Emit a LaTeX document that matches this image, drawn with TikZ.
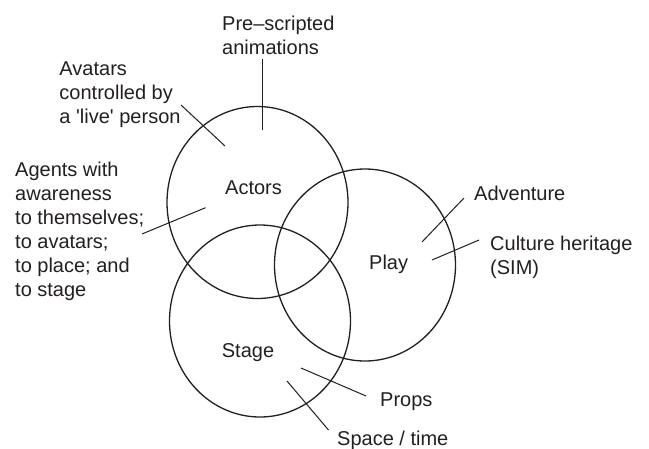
\documentclass[tikz,border=0pt]{standalone}
\usepackage{fontspec}
\setmainfont{Liberation Sans}
\usetikzlibrary{shapes.geometric}
\definecolor{ink}{RGB}{35,31,32}
\tikzset{
  region/.style={ellipse,draw=ink,line width=1.3pt,minimum width=181pt,
    minimum height=192pt,inner sep=0pt},
  txt/.style={text=ink,inner sep=0pt,align=left,
    font=\fontsize{20}{24}\selectfont},
  lead/.style={draw=ink,line width=1pt}
}
\begin{document}
\begin{tikzpicture}[x=1pt,y=-1pt]
  \useasboundingbox (0,0) rectangle (649,448);
  % the three sets
  \node (actors) [region] at (257.5,202.5) {};
  \node (play) [region] at (365,265) {};
  \node (stage) [region] at (260,321) {};
  \node (actorsl) [txt,anchor=base west] at (225,194) {Actors};
  \node (playl) [txt,anchor=base west] at (369,269.3) {Play};
  \node (stagel) [txt,anchor=base west] at (221.7,357.3) {Stage};
  % labels around
  \node (pre) [txt,anchor=north west] at (222,15.5) {Pre--scripted\\animations};
  \node (avatars) [txt,anchor=north west] at (59.3,61.5)
    {Avatars\\controlled by\\a \textquotesingle live\textquotesingle{} person};
  \node (agents) [txt,anchor=north west] at (15,162.2)
    {Agents with\\awareness\\to themselves;\\to avatars;\\to place; and\\to stage};
  \node (adv) [txt,anchor=base west] at (474,200.7) {Adventure};
  \node (culture) [txt,anchor=north west] at (490,235.5) {Culture heritage\\(SIM)};
  \node (props) [txt,anchor=base west] at (380,406) {Props};
  \node (space) [txt,anchor=base west] at (337,445) {Space / time};
  % leader ends
  \coordinate (pre0) at (262,59);     \coordinate (pre1) at (262,130);
  \coordinate (ava0) at (181,105);    \coordinate (ava1) at (225,146);
  \coordinate (age0) at (142,234);    \coordinate (age1) at (205.5,207.7);
  \coordinate (adv0) at (464,198);    \coordinate (adv1) at (422,242);
  \coordinate (cul0) at (479,240);    \coordinate (cul1) at (432,260);
  \coordinate (pro0) at (366,396);    \coordinate (pro1) at (301,368);
  \coordinate (spa0) at (328.5,430);  \coordinate (spa1) at (287,381);
  \foreach \a in {pre,ava,age,adv,cul,pro,spa}
    \draw[lead] (\a0) -- (\a1);
\end{tikzpicture}
\end{document}
